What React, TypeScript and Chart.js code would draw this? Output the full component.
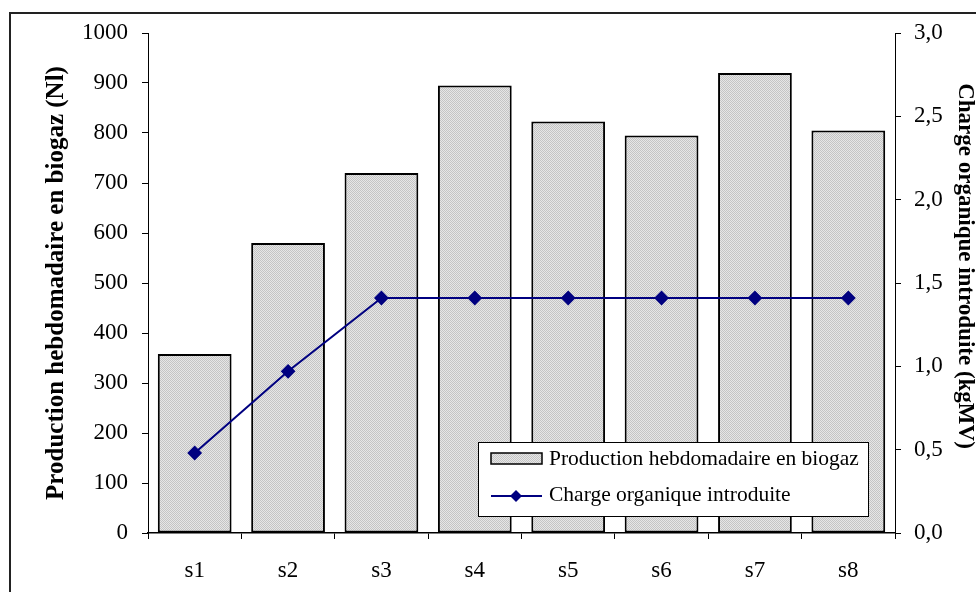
import React, { useEffect, useRef } from "react";
import { Chart, registerables } from "chart.js";

Chart.register(...registerables);

const categories = ["s1", "s2", "s3", "s4", "s5", "s6", "s7", "s8"];
const biogasProduction = [358, 580, 720, 895, 823, 795, 920, 805];
const organicLoad = [0.48, 0.97, 1.41, 1.41, 1.41, 1.41, 1.41, 1.41];
const leftTicksMax = 1000;
const rightTicksMax = 3;
const barLabel = "Production hebdomadaire en biogaz";
const lineLabel = "Charge organique introduite";
const leftTitle = "Production hebdomadaire en biogaz (Nl)";
const rightTitle = "Charge organique introduite (kgMV)";

const SERIF = "'Liberation Serif', 'Times New Roman', serif";

function makePattern(): CanvasPattern | string {
  const c = document.createElement("canvas");
  c.width = 2;
  c.height = 2;
  const g = c.getContext("2d");
  if (!g) return "#d6d6d6";
  g.fillStyle = "#e6e6e6";
  g.fillRect(0, 0, 2, 2);
  g.fillStyle = "#c4c4c4";
  g.fillRect(0, 0, 1, 1);
  g.fillRect(1, 1, 1, 1);
  return g.createPattern(c, "repeat") || "#d6d6d6";
}

export default function App() {
  const ref = useRef<HTMLCanvasElement | null>(null);

  useEffect(() => {
    if (!ref.current) return;
    const pattern = makePattern();

    const legendPlugin = {
      id: "insideLegend",
      afterDraw(chart: any) {
        const ctx = chart.ctx;
        const x0 = 478, y0 = 442, w = 390, h = 74;
        ctx.save();
        ctx.fillStyle = "#ffffff";
        ctx.fillRect(x0, y0, w, h);
        ctx.strokeStyle = "#000000";
        ctx.lineWidth = 1;
        ctx.strokeRect(x0 + 0.5, y0 + 0.5, w, h);
        // bar symbol
        ctx.fillStyle = pattern as any;
        ctx.fillRect(491, 453, 51, 11);
        ctx.lineWidth = 1.5;
        ctx.strokeRect(491, 453, 51, 11);
        // line symbol
        ctx.strokeStyle = "#000080";
        ctx.lineWidth = 2;
        ctx.beginPath();
        ctx.moveTo(491, 496);
        ctx.lineTo(542, 496);
        ctx.stroke();
        ctx.fillStyle = "#000080";
        ctx.beginPath();
        ctx.moveTo(516, 490);
        ctx.lineTo(522, 496);
        ctx.lineTo(516, 502);
        ctx.lineTo(510, 496);
        ctx.closePath();
        ctx.fill();
        // texts
        ctx.fillStyle = "#000000";
        ctx.font = `21.5px ${SERIF}`;
        ctx.textBaseline = "middle";
        ctx.textAlign = "left";
        ctx.fillText(chart.data.datasets[0].label, 549, 459);
        ctx.fillText(chart.data.datasets[1].label, 549, 495);
        // right axis title
        ctx.save();
        ctx.translate(965, 266);
        ctx.rotate(Math.PI / 2);
        ctx.font = `bold 23px ${SERIF}`;
        ctx.textAlign = "center";
        ctx.textBaseline = "middle";
        ctx.fillText(rightTitle, 0, 0);
        ctx.restore();
        ctx.restore();
      },
    };

    const chart = new Chart(ref.current, {
      type: "bar",
      data: {
        labels: categories,
        datasets: [
          {
            type: "bar",
            label: barLabel,
            data: biogasProduction,
            backgroundColor: pattern as any,
            borderColor: "#000000",
            borderWidth: 2,
            borderSkipped: false,
            barPercentage: 0.79,
            categoryPercentage: 1,
            yAxisID: "y",
            order: 1,
          },
          {
            type: "line",
            label: lineLabel,
            data: organicLoad,
            borderColor: "#000080",
            backgroundColor: "#000080",
            borderWidth: 2,
            pointStyle: "rectRot",
            pointRadius: 6,
            pointBackgroundColor: "#000080",
            pointBorderColor: "#000080",
            tension: 0,
            yAxisID: "y1",
            order: 0,
          } as any,
        ],
      },
      options: {
        responsive: false,
        animation: false,
        layout: { padding: { top: 33, left: 0, right: 0, bottom: 0 } },
        plugins: {
          legend: { display: false },
          tooltip: { enabled: false },
        },
        scales: {
          x: {
            type: "category",
            offset: true,
            grid: {
              display: true,
              drawOnChartArea: false,
              drawTicks: true,
              tickLength: 6,
              color: "#000000",
              offset: true,
            },
            border: { display: true, color: "#000000", width: 1.5 },
            ticks: {
              color: "#000000",
              font: { family: SERIF, size: 23 },
              padding: 18,
            },
            afterFit(scale: any) {
              scale.height = 59;
            },
          },
          y: {
            type: "linear",
            position: "left",
            min: 0,
            max: leftTicksMax,
            ticks: {
              stepSize: 100,
              color: "#000000",
              font: { family: SERIF, size: 23 },
              padding: 14,
              callback: (v: any) => String(v),
            },
            grid: {
              drawOnChartArea: false,
              drawTicks: true,
              tickLength: 6,
              color: "#000000",
            },
            border: { display: true, color: "#000000", width: 1 },
            title: {
              display: true,
              text: leftTitle,
              color: "#000000",
              font: { family: SERIF, size: 25, weight: "bold", lineHeight: 1 },
              padding: { top: 44, bottom: 0 },
            },
            afterFit(scale: any) {
              scale.width = 148;
            },
          },
          y1: {
            type: "linear",
            position: "right",
            min: 0,
            max: rightTicksMax,
            ticks: {
              stepSize: 0.5,
              color: "#000000",
              font: { family: SERIF, size: 23 },
              padding: 13,
              callback: (v: any) => Number(v).toFixed(1).replace(".", ","),
            },
            grid: {
              drawOnChartArea: false,
              drawTicks: true,
              tickLength: 6,
              color: "#000000",
            },
            border: { display: true, color: "#000000", width: 1 },
            title: { display: false },
            afterFit(scale: any) {
              scale.width = 81;
            },
          },
        },
      },
      plugins: [legendPlugin],
    });

    return () => chart.destroy();
  }, []);

  return (
    <div
      style={{
        position: "fixed",
        left: 0,
        top: 0,
        width: 976,
        height: 592,
        overflow: "hidden",
        background: "#ffffff",
      }}
    >
      <div
        style={{
          position: "absolute",
          left: 9,
          top: 12,
          width: 2000,
          height: 2000,
          borderLeft: "2px solid #222222",
          borderTop: "2px solid #222222",
        }}
      />
      <canvas
        ref={ref}
        width={976}
        height={592}
        style={{ position: "absolute", left: 0, top: 0, width: 976, height: 592 }}
      />
    </div>
  );
}
